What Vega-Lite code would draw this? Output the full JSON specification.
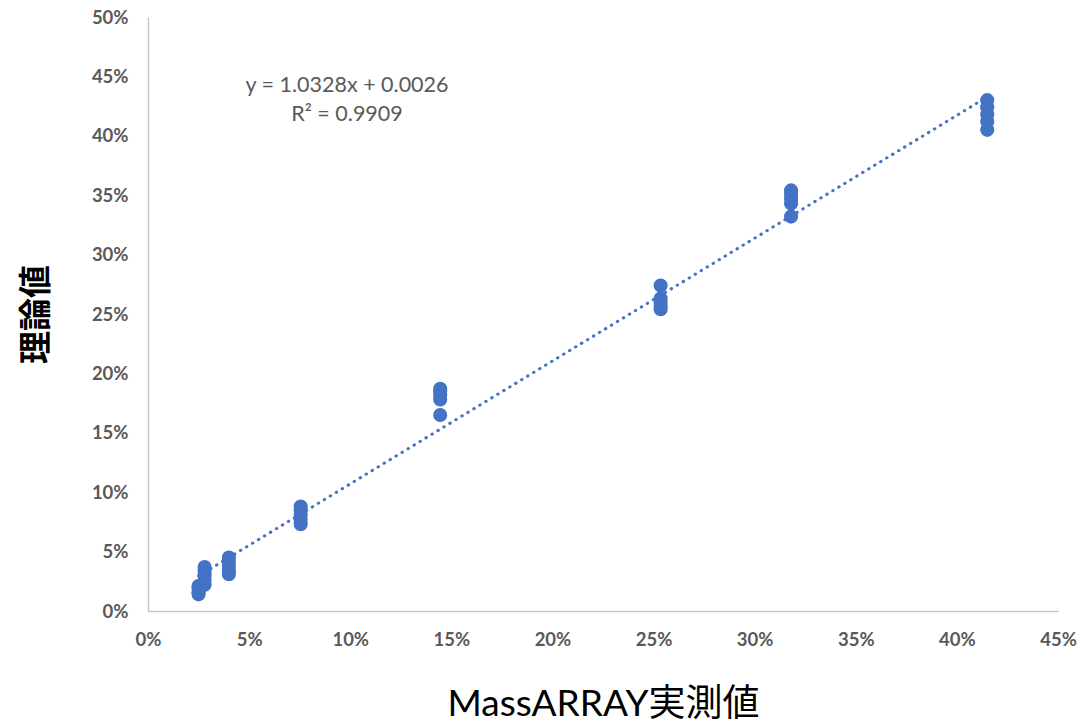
{
  "$schema": "https://vega.github.io/schema/vega-lite/v6.json",
  "width": 910,
  "height": 594,
  "autosize": "none",
  "padding": {"left": 148, "top": 17, "right": 26, "bottom": 113},
  "background": "white",
  "config": {
    "view": {"stroke": null},
    "axis": {
      "grid": false, "ticks": false, "labelFlush": false, "labelOverlap": false,
      "domainColor": "#c6c6c6", "domainWidth": 1.5,
      "labelFont": "Lato", "labelFontSize": 18.5, "labelFontWeight": "bold", "labelColor": "#595959"
    }
  },
  "datasets": {
    "points": [
      {"x": 0.025, "y": 0.014}, {"x": 0.025, "y": 0.016}, {"x": 0.025, "y": 0.019}, {"x": 0.025, "y": 0.021},
      {"x": 0.028, "y": 0.022}, {"x": 0.028, "y": 0.026}, {"x": 0.028, "y": 0.030}, {"x": 0.028, "y": 0.034}, {"x": 0.028, "y": 0.037},
      {"x": 0.040, "y": 0.031}, {"x": 0.040, "y": 0.034}, {"x": 0.040, "y": 0.038}, {"x": 0.040, "y": 0.042}, {"x": 0.040, "y": 0.045},
      {"x": 0.0755, "y": 0.073}, {"x": 0.0755, "y": 0.077}, {"x": 0.0755, "y": 0.081}, {"x": 0.0755, "y": 0.085}, {"x": 0.0755, "y": 0.088},
      {"x": 0.1445, "y": 0.165}, {"x": 0.1445, "y": 0.178}, {"x": 0.1445, "y": 0.182}, {"x": 0.1445, "y": 0.185}, {"x": 0.1445, "y": 0.187},
      {"x": 0.2535, "y": 0.254}, {"x": 0.2535, "y": 0.257}, {"x": 0.2535, "y": 0.260}, {"x": 0.2535, "y": 0.263}, {"x": 0.2535, "y": 0.274},
      {"x": 0.318, "y": 0.332}, {"x": 0.318, "y": 0.343}, {"x": 0.318, "y": 0.347}, {"x": 0.318, "y": 0.351}, {"x": 0.318, "y": 0.354},
      {"x": 0.415, "y": 0.405}, {"x": 0.415, "y": 0.412}, {"x": 0.415, "y": 0.418}, {"x": 0.415, "y": 0.424}, {"x": 0.415, "y": 0.430}
    ],
    "labels": [
      {"label": "y = 1.0328x + 0.0026", "lx": 0.0984, "ly": 0.442},
      {"label": "R² = 0.9909", "lx": 0.0984, "ly": 0.4175}
    ]
  },
  "layer": [
    {
      "data": {"name": "points"},
      "mark": {"type": "circle", "size": 200, "color": "#4472C4", "opacity": 1},
      "encoding": {
        "x": {
          "field": "x", "type": "quantitative",
          "scale": {"domain": [0, 0.45], "nice": false, "zero": false},
          "axis": {
            "values": [0, 0.05, 0.1, 0.15, 0.2, 0.25, 0.3, 0.35, 0.4, 0.45],
            "format": ".0%", "labelPadding": 19,
            "title": "MassARRAY実測値",
            "titleFont": "Lato, Noto Sans CJK JP", "titleFontSize": 37, "titleFontWeight": "normal", "titleColor": "#000000",
            "titlePadding": 38
          }
        },
        "y": {
          "field": "y", "type": "quantitative",
          "scale": {"domain": [0, 0.5], "nice": false, "zero": false},
          "axis": {
            "values": [0, 0.05, 0.1, 0.15, 0.2, 0.25, 0.3, 0.35, 0.4, 0.45, 0.5],
            "format": ".0%", "labelPadding": 20,
            "title": "理論値",
            "titleFont": "Noto Sans CJK JP", "titleFontSize": 33, "titleFontWeight": "bold", "titleColor": "#000000",
            "titlePadding": 38
          }
        }
      }
    },
    {
      "data": {"name": "points"},
      "transform": [{"regression": "y", "on": "x"}],
      "mark": {"type": "line", "color": "#4472C4", "strokeWidth": 3, "strokeCap": "round", "strokeDash": [0.5, 6.5]},
      "encoding": {
        "x": {"field": "x", "type": "quantitative"},
        "y": {"field": "y", "type": "quantitative"}
      }
    },
    {
      "data": {"name": "labels"},
      "mark": {"type": "text", "font": "Lato", "fontSize": 21.5, "color": "#595959", "align": "center", "baseline": "middle"},
      "encoding": {
        "x": {"field": "lx", "type": "quantitative"},
        "y": {"field": "ly", "type": "quantitative"},
        "text": {"field": "label", "type": "nominal"}
      }
    }
  ]
}
